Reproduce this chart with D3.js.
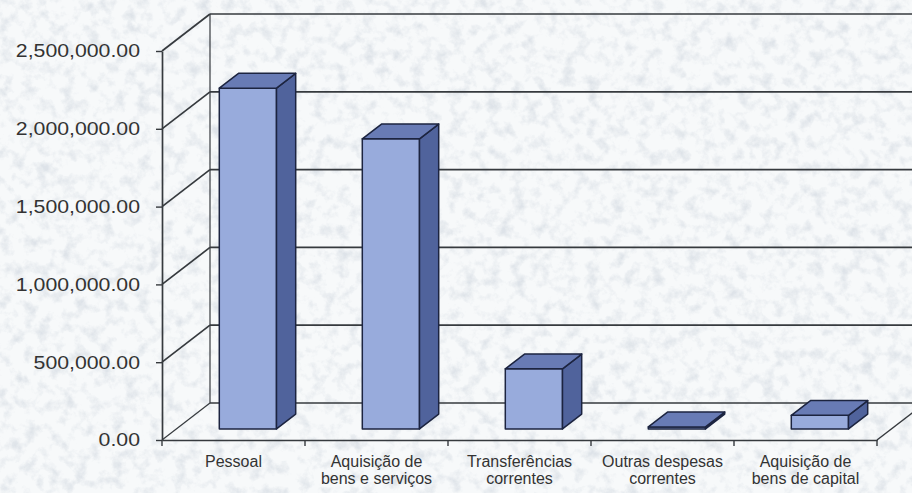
<!DOCTYPE html>
<html>
<head>
<meta charset="utf-8">
<script src="https://cdn.jsdelivr.net/npm/d3@7"></script>
<style>
    html, body { margin: 0; padding: 0; background: #f3f5f7; }
    svg { display: block; }
</style>
</head>
<body>
<svg id="chart" width="912" height="493"></svg>
<script>
// data
const categories = ["Pessoal", "Aquisição de bens e serviços", "Transferências correntes",
    "Outras despesas correntes", "Aquisição de bens de capital"];
const labelLines = [["Pessoal"], ["Aquisição de", "bens e serviços"], ["Transferências", "correntes"],
    ["Outras despesas", "correntes"], ["Aquisição de", "bens de capital"]];
const values = [2190000, 1864000, 386000, 13000, 87000];
const yTicks = [0, 500000, 1000000, 1500000, 2000000, 2500000];

const cfg = {
    width: 912,
    height: 493,
    left: 162,
    right: 877,
    bottom: 440,
    top: 51,
    dx: 48,   // depth offset of the back wall
    dy: 37,
    barX0: 0.3,
    barX1: 0.7,
    barZ0: 0.3,
    barZ1: 0.7,
    front: "#98abdc",
    side: "#50639c",
    topFace: "#687bb5",
    edge: "#1c2440",
    grid: "#363a3e",
    text: "#333333",
    font: "'Liberation Sans', Arial, sans-serif",
};

const svg = d3.select("#chart");

const x = d3.scaleBand().domain(categories).range([cfg.left, cfg.right]);
const y = d3.scaleLinear().domain([0, 2500000]).range([cfg.bottom, cfg.top]);

// screen point for (px, py) on the front plane pushed back by z (0..1)
function proj(px, py, z) {
    return [px + z * cfg.dx, py - z * cfg.dy];
}

function pts(list) {
    return list.map(p => p[0].toFixed(2) + "," + p[1].toFixed(2)).join(" ");
}

// paper texture
var defs = svg.append("defs");
var f = defs.append("filter").attr("id", "tex")
    .attr("x", 0).attr("y", 0).attr("width", "100%").attr("height", "100%");
f.append("feTurbulence")
    .attr("type", "fractalNoise")
    .attr("baseFrequency", "0.08")
    .attr("numOctaves", 4)
    .attr("seed", 7);
f.append("feColorMatrix")
    .attr("type", "matrix")
    .attr("values", "0 0 0 0 0.62  0 0 0 0 0.67  0 0 0 0 0.73  2.6 0 0 0 -1.2");

svg.append("rect").attr("width", cfg.width).attr("height", cfg.height).attr("fill", "#f7f9fa");
svg.append("rect").attr("width", cfg.width).attr("height", cfg.height)
    .attr("filter", "url(#tex)").attr("opacity", 0.6);

// walls and gridlines
var walls = svg.append("g")
    .attr("fill", "none")
    .attr("stroke", cfg.grid)
    .attr("stroke-width", 1.7);

yTicks.forEach(t => {
    var a = proj(cfg.left, y(t), 0);
    var b = proj(cfg.left, y(t), 1);
    walls.append("line")
        .attr("x1", a[0]).attr("y1", a[1])
        .attr("x2", b[0]).attr("y2", b[1])
        .attr("stroke-width", t === 0 ? 1.2 : 1.7);
    walls.append("line")
        .attr("x1", b[0]).attr("y1", b[1])
        .attr("x2", cfg.width + 5).attr("y2", b[1]);
});

var backTop = proj(cfg.left, y(2500000), 1);
var backBottom = proj(cfg.left, y(0), 1);
walls.append("line")
    .attr("x1", backTop[0]).attr("y1", backTop[1])
    .attr("x2", backBottom[0]).attr("y2", backBottom[1])
    .attr("stroke-width", 1.2);

// floor right edge
var fr = proj(cfg.right, y(0), 0);
var br = proj(cfg.right, y(0), 1);
walls.append("line")
    .attr("x1", fr[0]).attr("y1", fr[1])
    .attr("x2", br[0]).attr("y2", br[1])
    .attr("stroke-width", 1.4);

// bars
var bars = svg.append("g")
    .attr("stroke", cfg.edge)
    .attr("stroke-width", 1.5)
    .attr("stroke-linejoin", "round");

categories.forEach((c, i) => {
    var x0 = x(c) + cfg.barX0 * x.bandwidth();
    var x1 = x(c) + cfg.barX1 * x.bandwidth();
    var y0 = y(0);
    var y1 = y(values[i]);
    var z0 = cfg.barZ0, z1 = cfg.barZ1;

    bars.append("polygon")
        .attr("fill", cfg.front)
        .attr("points", pts([proj(x0, y0, z0), proj(x1, y0, z0), proj(x1, y1, z0), proj(x0, y1, z0)]));
    bars.append("polygon")
        .attr("fill", cfg.side)
        .attr("points", pts([proj(x1, y0, z0), proj(x1, y0, z1), proj(x1, y1, z1), proj(x1, y1, z0)]));
    bars.append("polygon")
        .attr("fill", cfg.topFace)
        .attr("points", pts([proj(x0, y1, z0), proj(x1, y1, z0), proj(x1, y1, z1), proj(x0, y1, z1)]));
});

// y axis on the front plane
var yAxis = svg.append("g")
    .attr("transform", "translate(" + cfg.left + ",0)")
    .call(d3.axisLeft(y).tickValues(yTicks).tickSize(6).tickSizeOuter(0).tickFormat(d3.format(",.2f")));

yAxis.select(".domain").attr("stroke", cfg.grid).attr("stroke-width", 1.7);
yAxis.selectAll(".tick line").attr("stroke", cfg.grid).attr("stroke-width", 1.4);
yAxis.selectAll(".tick text")
    .attr("font-family", cfg.font)
    .attr("font-size", 18.5)
    .attr("fill", cfg.text)
    .attr("x", -22 / 1.15)
    .attr("transform", "scale(1.15,1)");

// category axis on the front edge of the floor
var xAxis = svg.append("g")
    .attr("transform", "translate(0," + cfg.bottom + ")")
    .call(d3.axisBottom(x).tickSize(0).tickSizeOuter(0));

xAxis.select(".domain").attr("stroke", cfg.grid).attr("stroke-width", 1.7);
xAxis.selectAll(".tick text").remove();

var edges = categories.map(c => x(c)).concat([x(categories[categories.length - 1]) + x.bandwidth()]);
xAxis.selectAll(".cat-tick")
    .data(edges)
    .join("line")
    .attr("class", "cat-tick")
    .attr("x1", d => d).attr("x2", d => d)
    .attr("y1", 0).attr("y2", 6)
    .attr("stroke", cfg.grid)
    .attr("stroke-width", 1.4);

xAxis.selectAll(".tick").each(function(d, i) {
    var t = d3.select(this).append("text")
        .attr("font-family", cfg.font)
        .attr("font-size", 16)
        .attr("fill", cfg.text)
        .attr("text-anchor", "middle")
        .attr("y", 27);
    labelLines[i].forEach((line, k) => {
        t.append("tspan").attr("x", 0).attr("dy", k === 0 ? 0 : 17).text(line);
    });
});
</script>
</body>
</html>
